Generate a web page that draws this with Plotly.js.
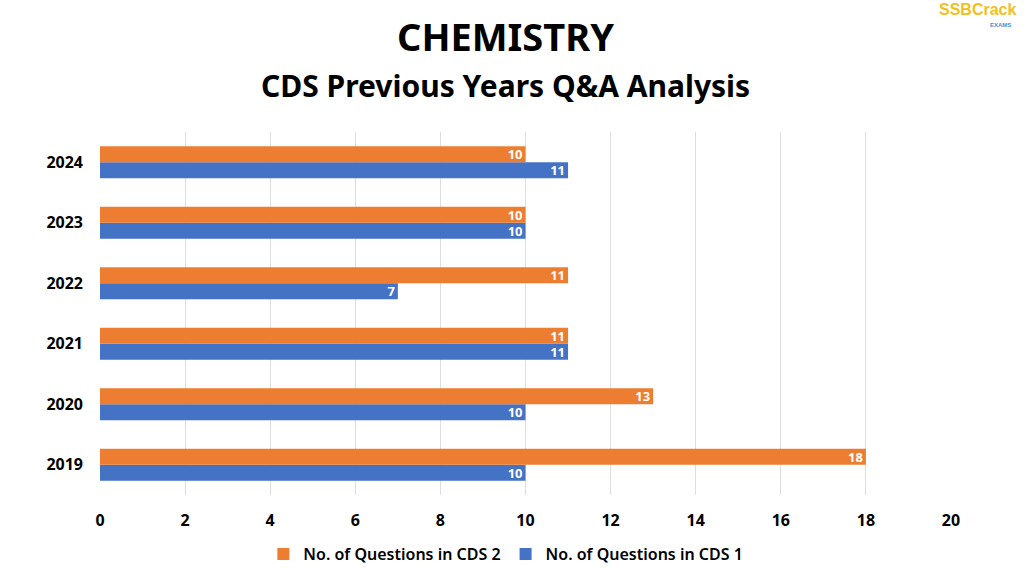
<!DOCTYPE html>
<html><head><meta charset="utf-8">
<script src="https://cdn.plot.ly/plotly-3.0.1.min.js"></script>
<style>html,body{margin:0;padding:0;background:#fff}#c{width:1024px;height:569px}</style>
</head><body><div id="c"></div>
<script>
const years = ['2019','2020','2021','2022','2023','2024'];
const cds1 = [10, 10, 11, 7, 10, 11];
const cds2 = [18, 13, 11, 11, 10, 10];
const xTicks = [0,2,4,6,8,10,12,14,16,18,20];
const FONT = '"Liberation Sans Narrow", "Liberation Sans", sans-serif';
const TFONT = '"Noto Sans", sans-serif';
const traces = [
  {type:'bar', orientation:'h', name:'No. of Questions in CDS 1', y:years, x:cds1,
   marker:{color:'#4472C4'}, text:cds1.map(String), textposition:'inside', insidetextanchor:'end',
   constraintext:'none', textangle:0, textfont:{color:'#fff', size:13, family:TFONT, weight:'bold'}},
  {type:'bar', orientation:'h', name:'No. of Questions in CDS 2', y:years, x:cds2,
   marker:{color:'#ED7D31'}, text:cds2.map(String), textposition:'inside', insidetextanchor:'end',
   constraintext:'none', textangle:0, textfont:{color:'#fff', size:13, family:TFONT, weight:'bold'}}
];
const layout = {
  width:1024, height:569, paper_bgcolor:'#fff', plot_bgcolor:'#fff',
  margin:{l:100, r:73, t:132, b:74},
  barmode:'group', bargap:0.47, bargroupgap:0,
  font:{family:FONT, color:'#000'},
  xaxis:{range:[0,20], tickvals:xTicks, showgrid:true, gridcolor:'#DEDEDE', gridwidth:1,
    zeroline:false, showline:false, ticks:'', ticklabelstandoff:14,
    tickfont:{size:16, family:TFONT, weight:'bold', color:'#000'}, fixedrange:true},
  yaxis:{type:'category', categoryorder:'array', categoryarray:years, showgrid:false,
    zeroline:false, showline:false, ticks:'', ticklabelstandoff:16,
    tickfont:{size:16, family:TFONT, weight:'bold', color:'#000'}},
  showlegend:true,
  legend:{orientation:'h', xref:'container', yref:'container', x:0.494, xanchor:'center', y:0.026, yanchor:'middle',
    traceorder:'reversed', font:{size:16, family:TFONT, color:'#000', weight:600}, itemwidth:30},
  annotations:[
    {text:'<b>CHEMISTRY</b>', xref:'paper', yref:'paper', x:0.476, xanchor:'center', y:1, yanchor:'bottom',
     yshift:68, showarrow:false, font:{size:38, family:TFONT, color:'#000'}},
    {text:'<b>CDS Previous Years Q&A Analysis</b>', xref:'paper', yref:'paper', x:0.476, xanchor:'center', y:1, yanchor:'bottom',
     yshift:24, showarrow:false, font:{size:30, family:TFONT, color:'#000'}},
    {text:'<b>SSBCrack</b>', xref:'paper', yref:'paper', x:1, xanchor:'right', y:1, yanchor:'bottom',
     xshift:67, yshift:112, showarrow:false, font:{size:16, family:'"Liberation Sans", sans-serif', color:'#F2C01E'}},
    {text:'<b>EXAMS</b>', xref:'paper', yref:'paper', x:1, xanchor:'right', y:1, yanchor:'bottom',
     xshift:62, yshift:102, showarrow:false, font:{size:6, family:'"Liberation Sans", sans-serif', color:'#3B8FD9'}}
  ]
};
Plotly.newPlot('c', traces, layout, {displayModeBar:false, staticPlot:true});
</script></body></html>
